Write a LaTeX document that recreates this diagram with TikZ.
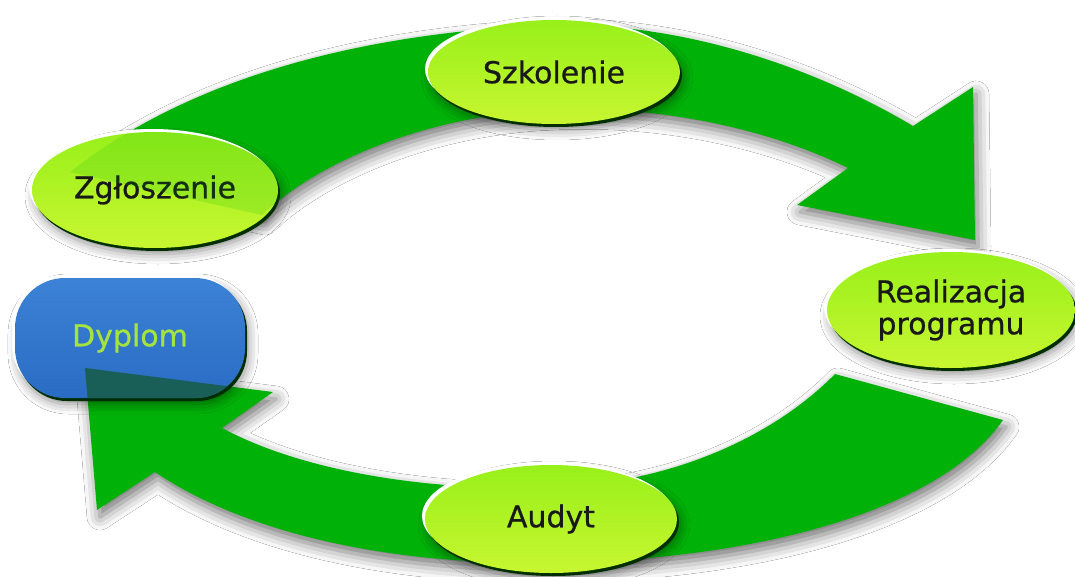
\documentclass[tikz,border=0pt]{standalone}
\usepackage{fontspec}
\setmainfont{DejaVu Sans}
\newfontfamily\labelfont[FakeBold=0.7]{DejaVu Sans}
\usetikzlibrary{shapes.geometric,shadows,shadows.blur}
\definecolor{arrowgreen}{RGB}{0,178,8}
\definecolor{limetop}{RGB}{152,240,26}
\definecolor{limebot}{RGB}{200,246,48}
\definecolor{diptop}{RGB}{60,130,214}
\definecolor{dipbot}{RGB}{42,108,196}
\definecolor{diptext}{RGB}{165,228,60}
\definecolor{overlap}{RGB}{26,94,88}
\newcommand{\toparrow}{(70,172) .. controls (200,70) and (380,32) .. (550,25)
  .. controls (680,22) and (810,65) .. (913,126) -- (973,87) -- (975,240)
  -- (797,205) -- (848,168) .. controls (760,125) and (650,105) .. (550,110)
  .. controls (430,115) and (320,160) .. (262,215) -- cycle}
\newcommand{\botarrow}{(835,374) -- (1003,420) .. controls (940,510) and (760,560) .. (550,563)
  .. controls (380,565) and (240,530) .. (155,472) -- (97,510) -- (85,368)
  -- (273,392) -- (222,428) .. controls (300,470) and (420,490) .. (540,488)
  .. controls (680,485) and (780,430) .. (835,374) -- cycle}
\begin{document}
\begin{tikzpicture}
[x=1pt,y=-1pt,%
  bigarrow/.style={fill=arrowgreen,blur shadow={shadow xshift=3pt,shadow yshift=-7pt,shadow blur radius=13pt,shadow opacity=55}},%
  bevel/.style={blur shadow={shadow xshift=3pt,shadow yshift=-6pt,shadow blur radius=10pt,shadow opacity=45},%
    general shadow={fill=white,shadow xshift=-3pt,shadow yshift=3pt},%
    general shadow={fill=black!55!green!40!black,shadow xshift=2pt,shadow yshift=-3pt}},%
  stage/.style={ellipse,bevel,inner sep=0pt,top color=limetop,bottom color=limebot,%
    font=\labelfont\fontsize{30}{32}\selectfont,text=black!90,align=center},%
  goal/.style={rectangle,bevel,rounded corners=50pt,inner sep=0pt,top color=diptop,bottom color=dipbot,%
    font=\labelfont\fontsize{30}{32}\selectfont,text=diptext}]
\useasboundingbox[fill=white] (0,0) rectangle (1075,577);
\fill[bigarrow] \toparrow;
\fill[bigarrow] \botarrow;
\node[goal,minimum width=230pt,minimum height=120pt] (dy) at (130,338) {Dyplom};
\begin{scope}
  \clip[rounded corners=50pt] (dy.south west) rectangle (dy.north east);
  \fill[overlap] \botarrow;
\end{scope}
\node[stage,minimum width=246pt,minimum height=116pt] (zg) at (155,190) {Zgłoszenie};
\node[stage,minimum width=252pt,minimum height=104pt] (sz) at (554,72) {Szkolenie};
\node[stage,minimum width=248pt,minimum height=116pt] (re) at (951,310) {Realizacja\\programu};
\node[stage,minimum width=252pt,minimum height=108pt] (au) at (551,519) {Audyt};
\begin{scope}
  \clip (zg.center) ellipse [x radius=123pt,y radius=58pt];
  \fill[arrowgreen,opacity=.15] \toparrow;
\end{scope}
\end{tikzpicture}
\end{document}
